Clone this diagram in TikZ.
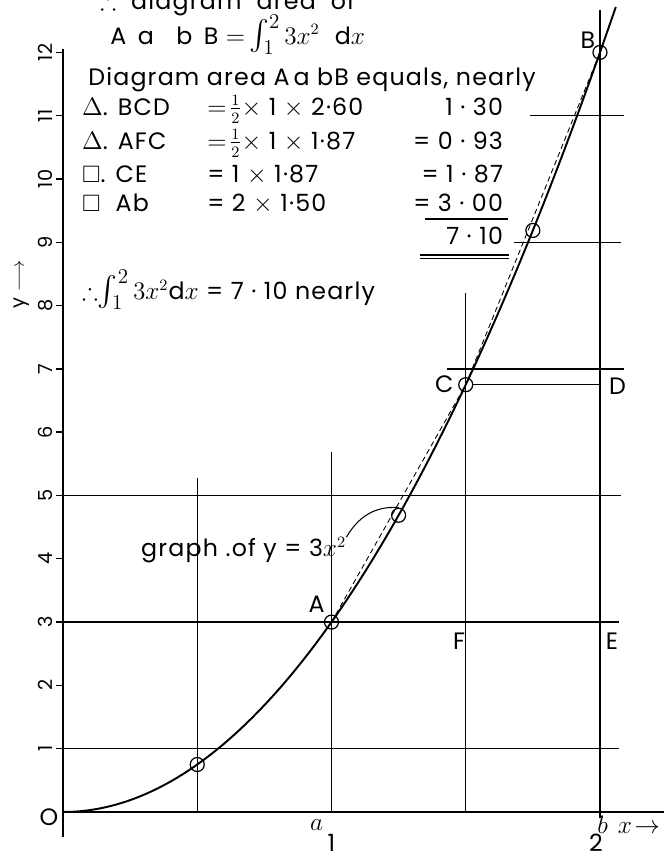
\documentclass[tikz,border=0pt]{standalone}
\usepackage{amsmath,amssymb}
\usepackage{fontspec}
\setmainfont{Poppins}[LetterSpace=5]
\usetikzlibrary{positioning}

\newcommand{\bigint}{{\fontsize{17}{18}\selectfont$\int_{1}^{2}$}}

\begin{document}
\begin{tikzpicture}[x=5.37cm, y=1.266cm, font=\fontsize{13.5}{16}\selectfont,
    gridln/.style={line width=0.8pt},
    axisln/.style={line width=1.1pt},
    ptmark/.style={draw, circle, line width=0.7pt, minimum size=0.28cm, inner sep=0pt},
    ptlbl/.style={inner sep=0pt},
    ytick/.style={rotate=90, inner sep=0pt, font=\fontsize{11}{13}\selectfont},
    txt/.style={inner sep=0pt, anchor=base west}]
    \useasboundingbox (-0.2346,-0.711) rectangle (2.268,12.828);

    % axes and ticks
    \coordinate (O0) at (0,0);
    \draw[axisln] (0,-0.4) -- (0,12.05);
    \draw[axisln] (O0) -- (2.24,0);
    \foreach \k in {1,...,12} {
        \draw[gridln] (-0.025,\k) -- (0,\k);
        \node[ytick] (yt\k) at (-0.065,\k) {\k};
    }
    \node[ptlbl] (O) at (-0.052,-0.09) {O};
    \node[ytick] (ylab) at (-0.155,8.33) {y $\longrightarrow$};
    \node[ptlbl] (xlab) at (2.145,-0.25) {$x\!\to$};
    \node[ptlbl] (la) at (0.945,-0.2) {$a$};
    \node[ptlbl] (l1) at (1.0,-0.49) {1};
    \node[ptlbl] (lb) at (2.01,-0.2) {$b$};
    \node[ptlbl] (l2) at (1.985,-0.49) {2};

    % points on the curve
    \foreach \xv/\nm in {0.5/P1, 1/A, 1.25/P3, 1.5/C, 1.75/P5, 2/B}
        \node[ptmark] (\nm) at (\xv,{3*\xv*\xv}) {};
    \coordinate (D) at (2,6.75);
    \coordinate (E) at (2,3);
    \coordinate (F) at (1.5,3);

    % grid lines
    \draw[gridln] (0,1) -- (2.07,1);
    \draw[gridln] (0,3) -- (2.07,3);
    \draw[gridln] (0,5) -- (2.08,5);
    \draw[gridln] (1.43,7) -- (2.09,7);
    \draw[gridln] (1.68,9) -- (2.08,9);
    \draw[gridln] (1.74,11) -- (2.09,11);
    \draw[gridln] (0.5,0) -- (0.5,5.28);
    \draw[gridln] (1,0) -- (1,5.69);
    \draw[gridln] (1.5,0) -- (1.5,8.2);
    \draw[gridln] (2,-0.1) -- (2,12.67);
    \draw[gridln] (C) -- (D);

    % curve and chords
    \draw[line width=1.1pt, domain=0:2.06, samples=80, smooth] plot (\x,{3*\x*\x});
    \draw[line width=0.5pt, dash pattern=on 3pt off 2pt, xshift=-1.5pt] (A.center) -- (C.center) -- (B.center);

    % point letters
    \node[ptlbl] (lA) at (0.945,3.28) {A};
    \node[ptlbl] (lB) at (1.955,12.2) {B};
    \node[ptlbl] (lC) at (1.42,6.76) {C};
    \node[ptlbl] (lD) at (2.065,6.72) {D};
    \node[ptlbl] (lE) at (2.045,2.7) {E};
    \node[ptlbl] (lF) at (1.475,2.7) {F};

    % working
    \node[txt] (t1) at (0.138,12.68) {$\therefore$\ \ diagram\ \ area\ \ of};
    \node[txt] (t2) at (0.175,12.13) {A\ \,a\ \ \ b\ \,B $=$\,\bigint\,$3x^{2}$\ \ d$x$};
    \node[txt] (t3) at (0.093,11.48) {Diagram area A\,a bB\ equals, nearly};
    \foreach \lbl/\eqn/\res/\yy [count=\i] in {
        {$\Delta$. BCD}/{$=\!\frac{1}{2}\times$\ 1 $\times$\ 2·60}/{1 · 30}/11.01,
        {$\Delta$. AFC}/{$=\!\frac{1}{2}\times$\ 1 $\times$\ 1·87}/{= 0 · 93}/10.47,
        {$\square$. CE}/{=\ 1\ $\times$\ 1·87}/{=\ 1 · 87}/9.95,
        {$\square$\ \ Ab}/{=\ 2\ $\times$\ 1·50}/{=\ 3 · 00}/9.48} {
        \node[txt] (rl\i) at (0.07,\yy) {\lbl};
        \node[txt] (re\i) at (0.536,\yy) {\eqn};
        \node[inner sep=0pt, anchor=base east] (rr\i) at (1.64,\yy) {\res};
    }
    \node[inner sep=0pt, anchor=base east] (tot) at (1.64,8.96) {7 · 10};
    \draw[gridln] (1.348,9.37) -- (1.657,9.37);
    \draw[gridln] (1.33,8.80) -- (1.66,8.80);
    \draw[gridln] (1.33,8.74) -- (1.66,8.74);
    \node[txt] (res) at (0.07,8.09) {$\therefore$\bigint\,$3x^{2}$d$x$ = 7 · 10\ nearly};
    \node[txt] (glbl) at (0.29,4.03) {graph .of y = 3$x^{2}$};
    \draw[line width=0.6pt] (glbl.north east) to[out=60, in=175] (P3.north);
\end{tikzpicture}
\end{document}
